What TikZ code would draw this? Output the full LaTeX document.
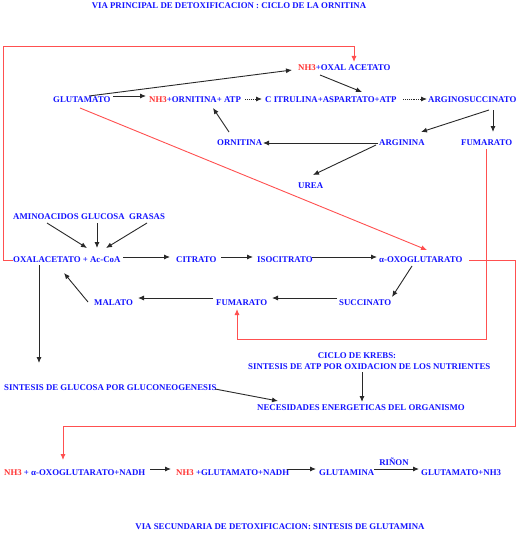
\documentclass[tikz,border=0pt]{standalone}
\usepackage{fontspec}
\setmainfont{Liberation Serif}
\usetikzlibrary{calc,arrows.meta}
\definecolor{txtblue}{RGB}{20,20,255}
\definecolor{txtred}{RGB}{255,50,50}
\definecolor{linered}{RGB}{255,80,80}
\definecolor{arrgray}{RGB}{40,40,40}
\tikzset{
  lbl/.style={text=txtblue, font=\bfseries\fontsize{8.8}{10}\selectfont, inner sep=0pt, anchor=west},
  ctr/.style={text=txtblue, font=\bfseries\fontsize{8.8}{10}\selectfont, inner sep=0pt},
  arr/.style={draw=arrgray, line width=0.9pt, -{Latex[length=6pt,width=5pt]}},
  darr/.style={arr, densely dotted},
  rarr/.style={draw=linered, line width=0.9pt, -{Latex[length=6pt,width=5pt]}},
}
\newcommand{\nh}{\textcolor{txtred}{NH3}}
\begin{document}
\begin{tikzpicture}[x=1pt,y=-1pt]
\useasboundingbox[fill=white] (0,0) rectangle (520,535);
% nodes
\node[ctr] (title) at (229,6) {VIA PRINCIPAL DE DETOXIFICACION : CICLO DE LA ORNITINA};
\node[lbl] (nhox) at (298,68) {\nh+OXAL ACETATO};
\node[lbl] (glut) at (53,100) {GLUTAMATO};
\node[lbl] (nhorn) at (149,100) {\nh+ORNITINA+ ATP};
\node[lbl] (citr) at (265,100) {C ITRULINA+ASPARTATO+ATP};
\node[lbl] (argsuc) at (428,100) {ARGINOSUCCINATO};
\node[lbl] (orn) at (217,143) {ORNITINA};
\node[lbl] (argn) at (379,143) {ARGININA};
\node[lbl] (fumt) at (461,143) {FUMARATO};
\node[lbl] (urea) at (298,186) {UREA};
\node[lbl] (amino) at (13,217) {AMINOACIDOS};
\node[lbl] (gluc) at (81,217) {GLUCOSA};
\node[lbl] (gras) at (129,217) {GRASAS};
\node[lbl] (oxal) at (13,260) {OXALACETATO + Ac-CoA};
\node[lbl] (citrato) at (176,260) {CITRATO};
\node[lbl] (isoc) at (257,260) {ISOCITRATO};
\node[lbl] (aoxo) at (379,260) {α-OXOGLUTARATO};
\node[lbl] (malato) at (94,303) {MALATO};
\node[lbl] (fumb) at (216,303) {FUMARATO};
\node[lbl] (succ) at (339,303) {SUCCINATO};
\node[ctr] (krebs) at (357,356) {CICLO DE KREBS:};
\node[lbl] (sintatp) at (248,367) {SINTESIS DE ATP POR OXIDACION DE LOS NUTRIENTES};
\node[lbl] (singlu) at (4,388) {SINTESIS DE GLUCOSA POR GLUCONEOGENESIS};
\node[lbl] (neces) at (257,408) {NECESIDADES ENERGETICAS DEL ORGANISMO};
\node[lbl] (b1) at (4,473) {\nh{} + α-OXOGLUTARATO+NADH};
\node[lbl] (b2) at (176,473) {\nh{} +GLUTAMATO+NADH};
\node[lbl] (glutamina) at (319,473) {GLUTAMINA};
\node[lbl] (glutnh) at (421,473) {GLUTAMATO+NH3};
\node[ctr] (rinon) at (394,462) {RIÑON};
\node[ctr] (title2) at (280,527) {VIA SECUNDARIA DE DETOXIFICACION: SINTESIS DE GLUTAMINA};
% black connectors
\draw[arr] ($(glut.west)+(36,-4)$) -- ($(nhox.west)+(-6,2)$);
\draw[arr] ($(glut.west)+(60,-4)$) -- ($(nhorn.west)+(-3,-4)$);
\draw[arr] ($(nhox.west)+(22,7)$) -- ($(citr.west)+(97,-8)$);
\draw[darr] ($(nhorn.west)+(96,-1)$) -- ($(citr.west)+(-3,-1)$);
\draw[darr] ($(citr.west)+(138,-1)$) -- ($(argsuc.west)+(-1,-1)$);
\draw[arr] ($(orn.west)+(12,-11)$) -- ($(nhorn.west)+(64,8)$);
\draw[arr] ($(argsuc.west)+(61,10)$) -- ($(argn.west)+(42,-11)$);
\draw[arr] ($(argsuc.west)+(65,10)$) -- ($(fumt.west)+(32,-11)$);
\draw[arr] ($(argn.west)+(-1,0)$) -- ($(orn.west)+(46,0)$);
\draw[arr] ($(argn.west)+(-3,2)$) -- ($(urea.west)+(15,-11)$);
\draw[arr] ($(amino.west)+(34,6)$) -- ($(oxal.west)+(74,-12)$);
\draw[arr] ($(gluc.west)+(16,6)$) -- ($(oxal.west)+(84,-12)$);
\draw[arr] ($(gras.west)+(18,6)$) -- ($(oxal.west)+(93,-12)$);
\draw[arr] ($(oxal.west)+(110,-3)$) -- ($(citrato.west)+(-6,-3)$);
\draw[arr] ($(citrato.west)+(45,-3)$) -- ($(isoc.west)+(-4,-3)$);
\draw[arr] ($(isoc.west)+(55,-3)$) -- ($(aoxo.west)+(-2,-3)$);
\draw[arr] ($(aoxo.west)+(33,6)$) -- ($(succ.west)+(53,-6)$);
\draw[arr] ($(succ.west)+(-2,-5)$) -- ($(fumb.west)+(56,-5)$);
\draw[arr] ($(fumb.west)+(-3,-5)$) -- ($(malato.west)+(44,-5)$);
\draw[arr] ($(malato.west)+(-6,-1)$) -- ($(oxal.west)+(51,13)$);
\draw[arr] ($(oxal.west)+(26,5)$) -- ($(singlu.west)+(35,-25)$);
\draw[arr] ($(singlu.west)+(211,1)$) -- ($(neces.west)+(21,-7)$);
\draw[arr] ($(sintatp.west)+(114,5)$) -- ($(neces.west)+(105,-6)$);
\draw[arr] ($(b1.west)+(146,-4)$) -- ($(b2.west)+(-5,-4)$);
\draw[arr] ($(b2.west)+(111,-4)$) -- ($(glutamina.west)+(-3,-4)$);
\draw[arr] ($(glutamina.west)+(55,-4)$) -- ($(glutnh.west)+(-2,-4)$);
% red connectors
\draw[rarr] ($(glut.west)+(27,8)$) -- ($(aoxo.west)+(48,-10)$);
\draw[rarr] ($(fumt.west)+(25,6)$) -- ++(0,190) -| ($(fumb.west)+(21,6)$);
\draw[rarr] (oxal.west) -- ++(-10,0) -- ++(0,-214) -| ($(nhox.west)+(56,-6)$);
\draw[rarr] ($(aoxo.west)+(90,0)$) -- ++(46,0) -- ++(0,166) -| ($(b1.west)+(59,-13)$);
\end{tikzpicture}
\end{document}
